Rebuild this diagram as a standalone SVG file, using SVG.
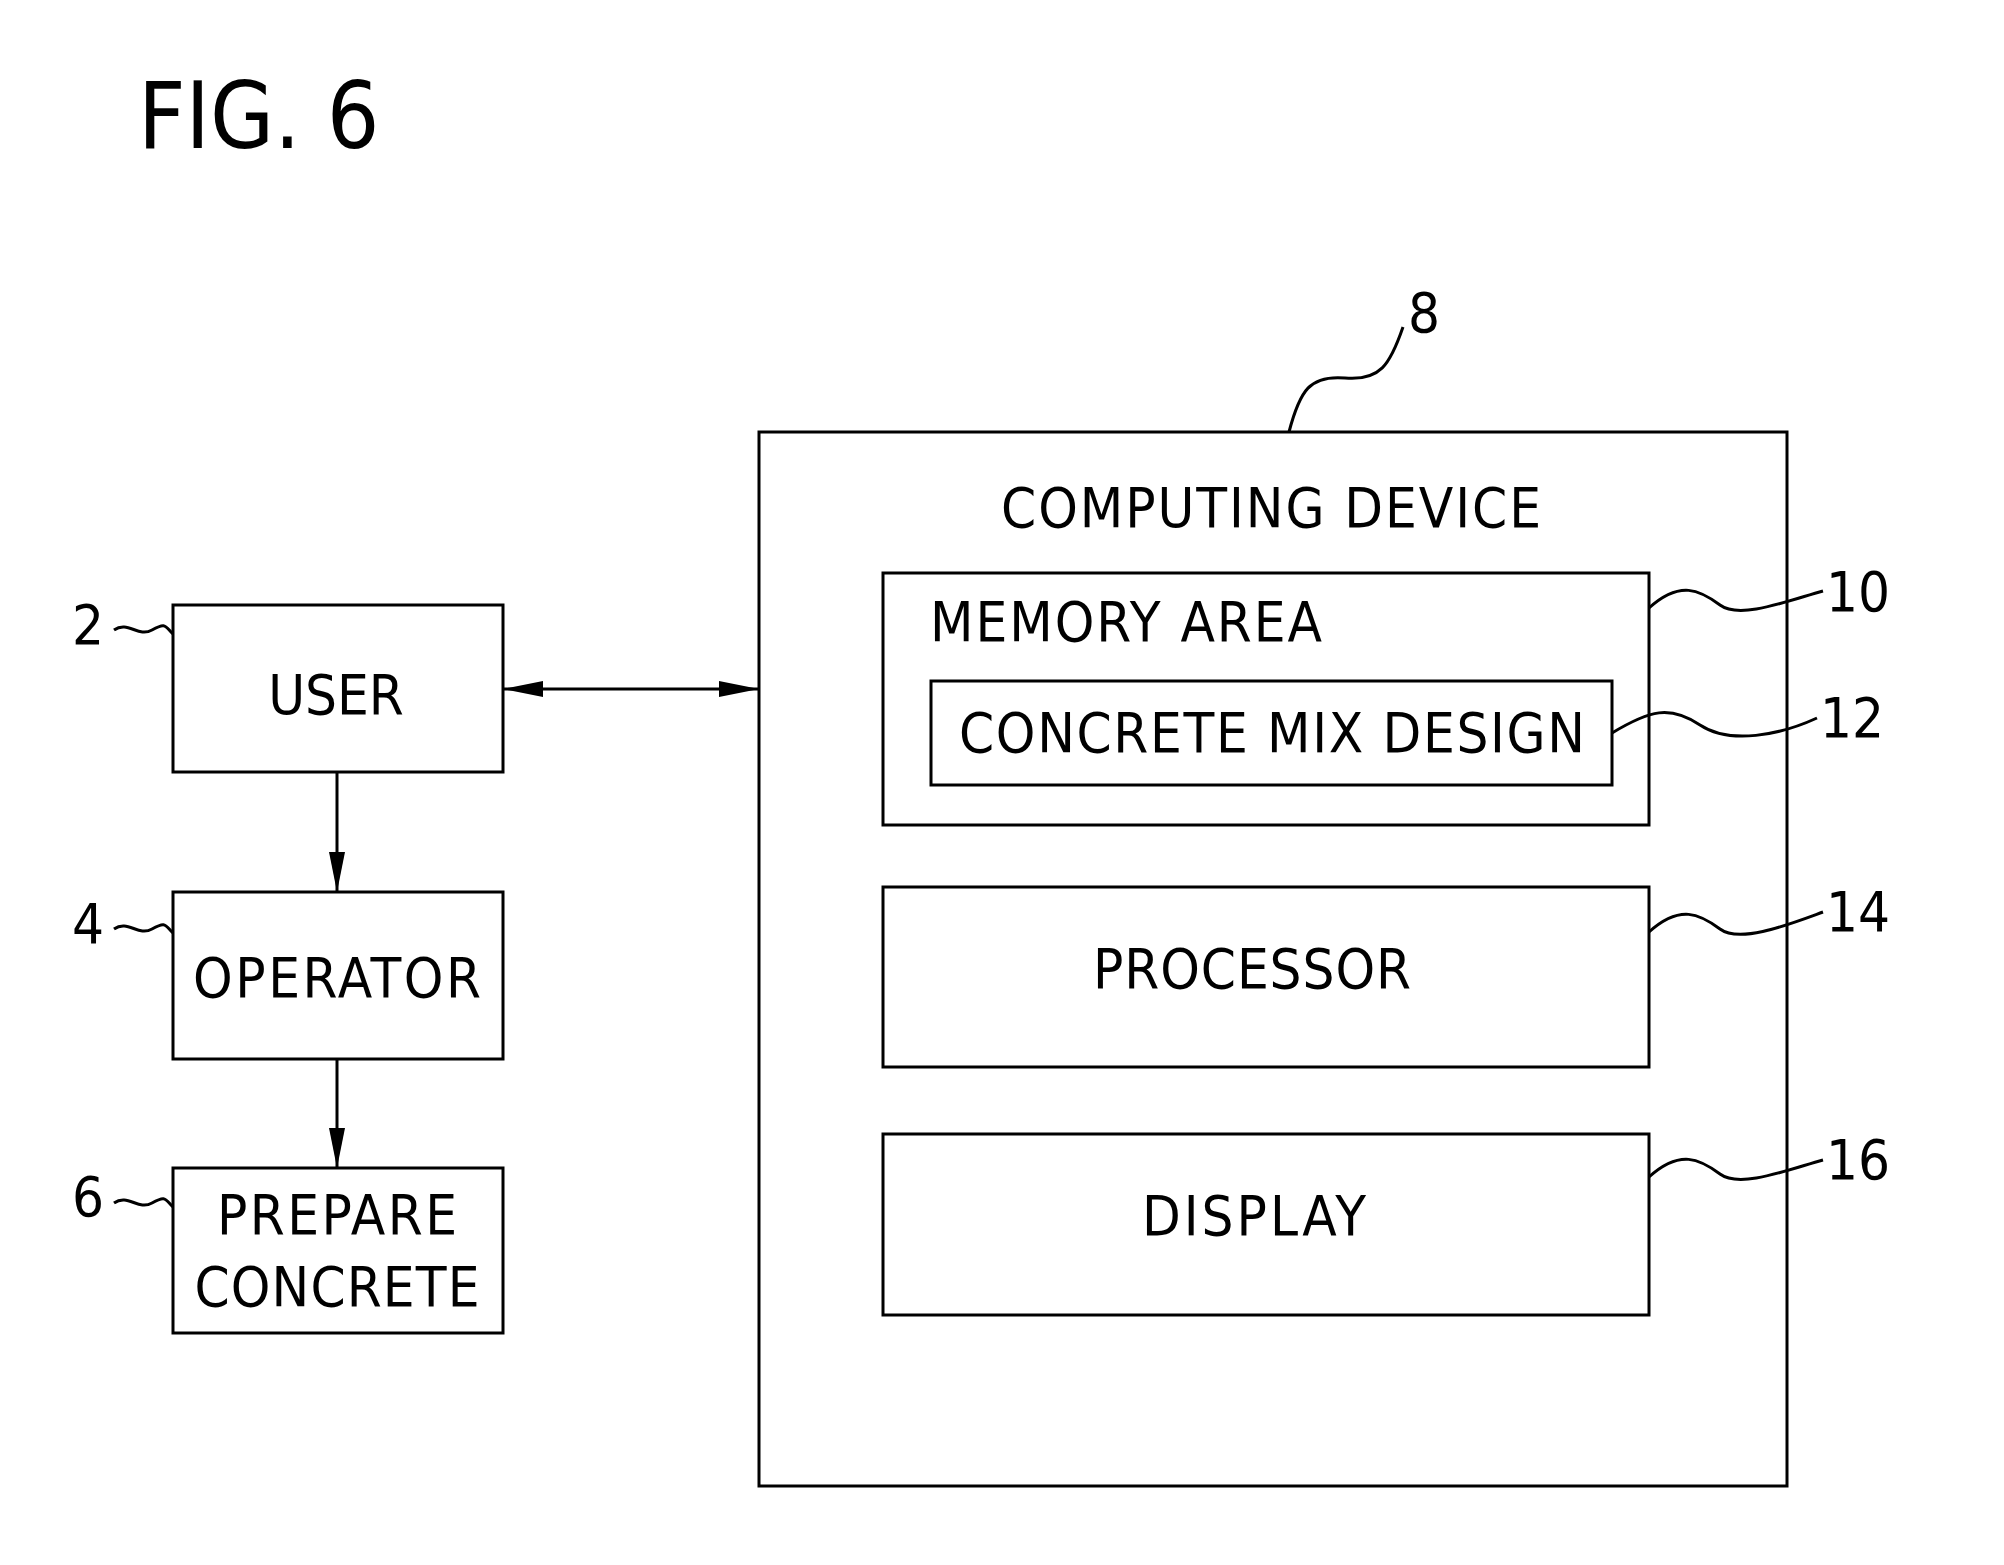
<svg xmlns="http://www.w3.org/2000/svg" width="2004" height="1565" viewBox="0 0 2004 1565">
<style>
rect{fill:none;stroke:#000;stroke-width:3}
path,line{fill:none;stroke:#000;stroke-width:3}
text{font-family:"DejaVu Sans Condensed","Liberation Sans",sans-serif;font-size:56px;fill:#000}
.m{text-anchor:middle}
</style>
<defs><marker id="a" markerWidth="12" markerHeight="8" refX="12" refY="4" orient="auto" markerUnits="userSpaceOnUse" viewBox="0 0 12 8"><path d="M0,0 L12,4 L0,8z" style="fill:#000;stroke:none"/></marker>
<marker id="b" viewBox="0 0 40 16" refX="40" refY="8" markerWidth="40" markerHeight="16" orient="auto-start-reverse" markerUnits="userSpaceOnUse"><path d="M0,0 L40,8 L0,16z" style="fill:#000;stroke:none"/></marker></defs>
<text x="138" y="148" style="font-size:92px">FIG. 6</text>
<g id="computing"><rect x="759" y="432" width="1028" height="1054"/><text class="m" x="1271" y="527" textLength="540">COMPUTING DEVICE</text></g>
<g id="memory"><rect x="883" y="573" width="766" height="252"/><text x="930" y="641" textLength="392">MEMORY AREA</text></g>
<g id="mix"><rect x="931" y="681" width="681" height="104"/><text class="m" x="1272" y="752" textLength="626">CONCRETE MIX DESIGN</text></g>
<g id="processor"><rect x="883" y="887" width="766" height="180"/><text class="m" x="1252" y="988" textLength="318">PROCESSOR</text></g>
<g id="display"><rect x="883" y="1134" width="766" height="181"/><text class="m" x="1254" y="1235" textLength="224">DISPLAY</text></g>
<g id="user"><rect x="173" y="605" width="330" height="167"/><text class="m" x="336" y="714">USER</text></g>
<g id="operator"><rect x="173" y="892" width="330" height="167"/><text class="m" x="337" y="997" textLength="288">OPERATOR</text></g>
<g id="prepare"><rect x="173" y="1168" width="330" height="165"/><text class="m" x="337" y="1234" textLength="240">PREPARE</text><text class="m" x="337" y="1306" textLength="285">CONCRETE</text></g>
<g id="connectors">
<line x1="503" y1="689" x2="759" y2="689" marker-start="url(#b)" marker-end="url(#b)"/>
<line x1="337" y1="772" x2="337" y2="892" marker-end="url(#b)"/>
<line x1="337" y1="1059" x2="337" y2="1168" marker-end="url(#b)"/>
</g>
<g id="labels">
<text x="72" y="644">2</text><text x="72" y="943">4</text><text x="72" y="1216">6</text>
<text x="1408" y="332">8</text><text x="1826" y="611">10</text><text x="1820" y="737">12</text><text x="1826" y="931">14</text><text x="1826" y="1179">16</text>
<path d="M114,630 C128,620 138,638 152,630 S165,626 173,634"/>
<path d="M114,929 C128,919 138,937 152,929 S165,925 173,933"/>
<path d="M114,1203 C128,1193 138,1211 152,1203 S165,1199 173,1207"/>
<path d="M1289,432 C1300,390 1310,375 1345,378 S1390,365 1403,327"/>
<path d="M1649,608 C1680,580 1700,590 1720,605 S1790,600 1823,591"/>
<path d="M1612,733 C1650,710 1670,705 1700,725 S1780,735 1817,718"/>
<path d="M1649,932 C1680,904 1700,914 1720,929 S1790,924 1823,912"/>
<path d="M1649,1177 C1680,1149 1700,1159 1720,1174 S1790,1169 1823,1160"/>
</g>
</svg>
